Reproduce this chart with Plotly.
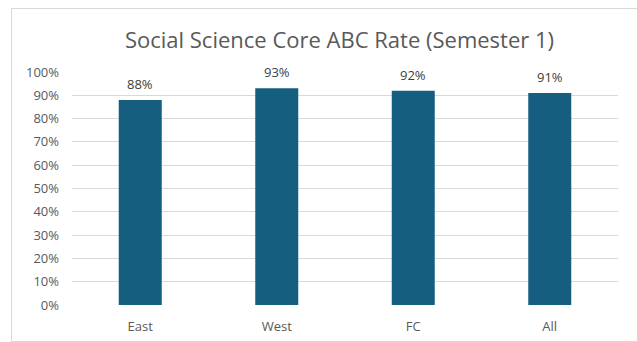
import plotly.graph_objects as go

categories = ["East", "West", "FC", "All"]
values = [0.88, 0.93, 0.92, 0.91]
labels = ["88%", "93%", "92%", "91%"]
tick_vals = [i / 10 for i in range(11)]
tick_text = [f"{i*10}%" for i in range(11)]

W, H = 637, 342
L, R, T, B = 72, 19, 72, 37
pw, ph = W - L - R, H - T - B

fig = go.Figure()
fig.add_trace(go.Bar(
    x=categories, y=values,
    marker=dict(color="#165e7f", line=dict(width=0)),
    width=0.315, cliponaxis=False,
))

for c, v, t in zip(categories, values, labels):
    fig.add_annotation(x=c, y=v, text=t, showarrow=False, yanchor="middle", yshift=16,
                       font=dict(size=13, color="#404040", family="Open Sans"))

def px_x(p):
    return (p - L) / pw

def px_y(p):
    return (H - B - p) / ph

fig.add_shape(type="rect", xref="paper", yref="paper",
              x0=px_x(11.5), x1=px_x(645), y0=px_y(341.5), y1=px_y(8.5),
              line=dict(color="#d9d9d9", width=1), fillcolor="rgba(0,0,0,0)", layer="below")

fig.update_layout(
    width=W, height=H,
    margin=dict(l=L, r=R, t=T, b=B, autoexpand=False),
    paper_bgcolor="white", plot_bgcolor="white",
    showlegend=False,
    title=dict(text="Social Science Core ABC Rate (Semester 1)",
               x=339.5 / W, xanchor="center", y=1 - 40 / H, yanchor="middle",
               font=dict(size=22, color="#595959", family="Open Sans")),
    font=dict(family="Open Sans", color="#595959", size=13),
)
fig.update_xaxes(showline=False, ticks="", tickfont=dict(size=13, color="#595959"),
                 showgrid=False, ticklabelstandoff=12, automargin=False)
fig.update_yaxes(range=[0, 1], tickvals=tick_vals, ticktext=tick_text,
                 showgrid=True, gridcolor="#d9d9d9", gridwidth=1,
                 zeroline=False, showline=False, ticks="",
                 ticklabelstandoff=12, automargin=False,
                 tickfont=dict(size=13, color="#595959"))

fig.write_html("out.html")
